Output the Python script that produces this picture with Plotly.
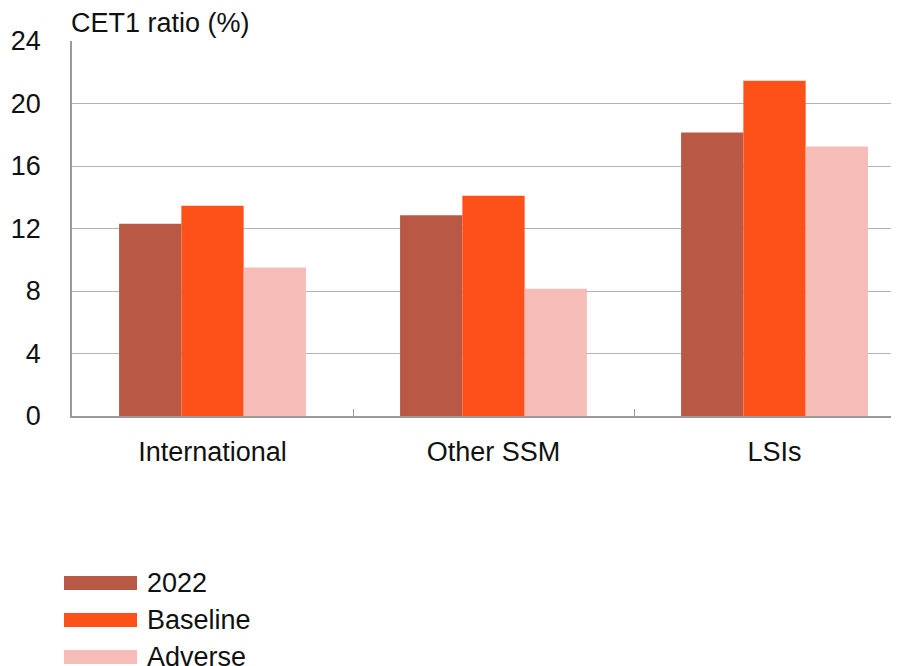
import plotly.graph_objects as go

categories = ["International", "Other SSM", "LSIs"]
series_names = ["2022", "Baseline", "Adverse"]
values_2022 = [12.3, 12.85, 18.15]
values_baseline = [13.45, 14.1, 21.45]
values_adverse = [9.5, 8.15, 17.25]
colors = ["#B95845", "#FE5019", "#F6BCB8"]
y_ticks = [0, 4, 8, 12, 16, 20, 24]

OFF = 8  # page body margin
W, H = 899 - OFF, 666 - OFF
ml, mt = 72 - OFF, 41 - OFF
mr = 0
mb = H - (416 - OFF)
pw, ph = W - ml - mr, H - mt - mb
FONT = "Liberation Sans, Arial, Helvetica, sans-serif"
FS = 27

fig = go.Figure()
for name, vals, col in zip(series_names, [values_2022, values_baseline, values_adverse], colors):
    fig.add_trace(go.Bar(x=categories, y=vals, name=name, marker=dict(color=col, line=dict(width=0)),
                         showlegend=False))

# helpers converting reference page pixels into paper coordinates
def px_x(p):
    return (p - OFF - ml) / pw

def px_y(p):
    return (H - mb - (p - OFF)) / ph

legend_rows = [583, 620, 657]
for name, col, yc in zip(series_names, colors, legend_rows):
    fig.add_shape(type="rect", xref="paper", yref="paper",
                  x0=px_x(64), x1=px_x(137), y0=px_y(yc + 7), y1=px_y(yc - 7),
                  fillcolor=col, line=dict(width=0))
    fig.add_annotation(xref="paper", yref="paper", x=px_x(145), y=px_y(yc), text=name,
                       showarrow=False, xanchor="left", yanchor="middle",
                       font=dict(size=FS, color="#111111", family=FONT))

fig.add_annotation(xref="paper", yref="paper", x=0, y=px_y(23), text="CET1 ratio (%)",
                   showarrow=False, xanchor="left", yanchor="middle", xshift=-3,
                   font=dict(size=FS, color="#111111", family=FONT))

fig.update_layout(
    width=W, height=H,
    margin=dict(l=ml, r=mr, t=mt, b=mb, pad=0, autoexpand=False),
    plot_bgcolor="white", paper_bgcolor="white",
    barmode="group", bargap=0.335, bargroupgap=0,
    font=dict(family=FONT, size=FS, color="#111111"),
    xaxis=dict(range=[-0.5, 2.443], tickson="boundaries", ticks="inside", ticklen=7,
               tickcolor="#9a9a9a", showline=True, linecolor="#9a9a9a", linewidth=1.5,
               showgrid=False, ticklabelstandoff=11, tickfont=dict(size=FS), automargin=False),
    yaxis=dict(range=[0, 24], tickvals=y_ticks, ticktext=[str(v) for v in y_ticks],
               showgrid=True, gridcolor="#b4b4b4", gridwidth=1.3, showline=True,
               linecolor="#9a9a9a", linewidth=1.5, ticks="", zeroline=False,
               ticklabelstandoff=24, tickfont=dict(size=FS), automargin=False),
)

fig.write_html("out.html")
